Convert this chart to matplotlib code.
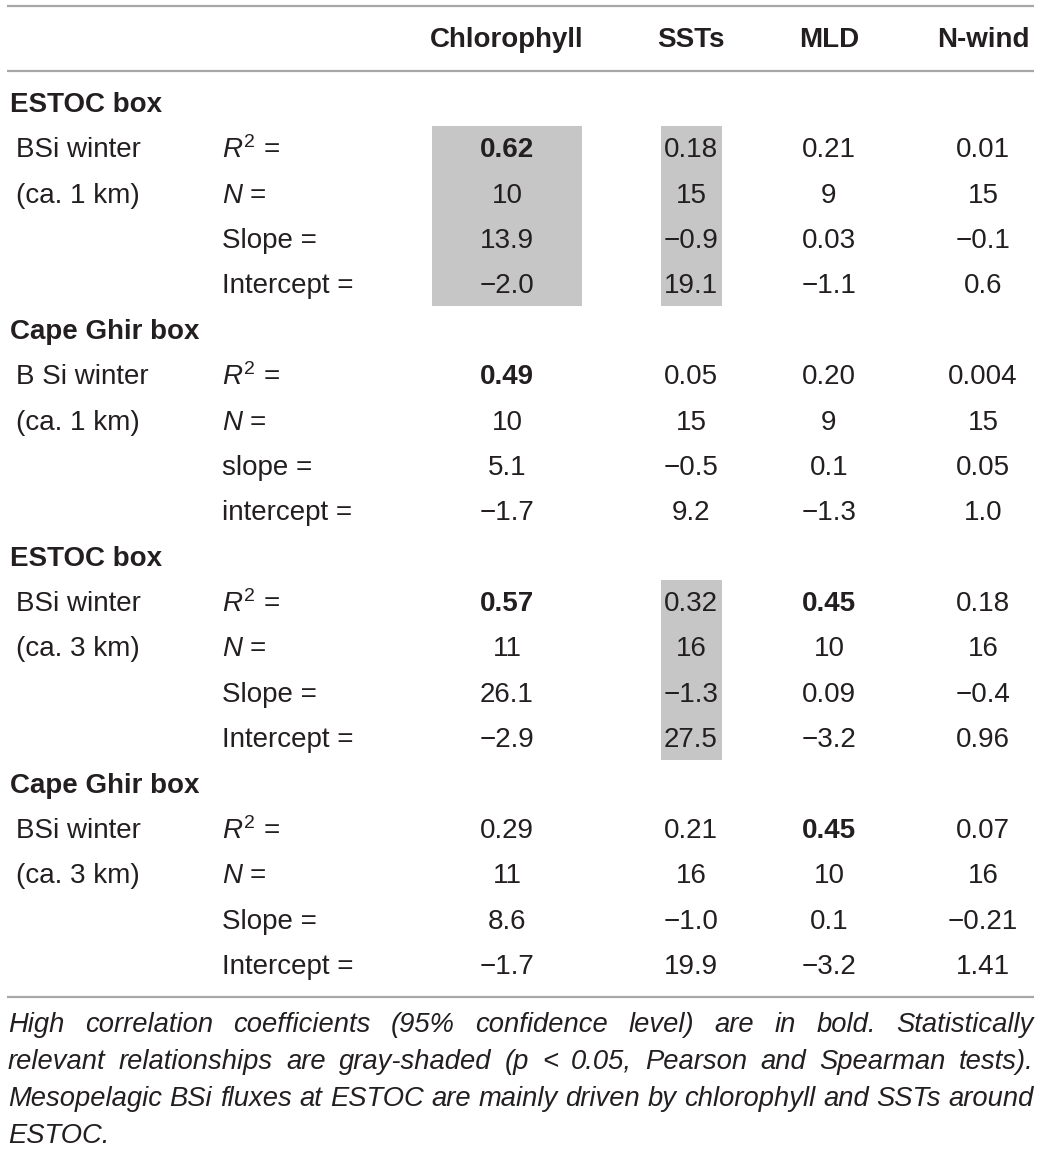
import matplotlib
matplotlib.use("Agg")
import matplotlib.pyplot as plt
from matplotlib.patches import Rectangle

plt.rcParams['font.family'] = ['Liberation Sans', 'DejaVu Sans']
plt.rcParams['mathtext.fontset'] = 'custom'
plt.rcParams['mathtext.rm'] = 'Liberation Sans'
plt.rcParams['mathtext.it'] = 'Liberation Sans:italic'

# table content
columns = ["Chlorophyll", "SSTs", "MLD", "N-wind"]
groups = ["ESTOC box", "Cape Ghir box", "ESTOC box", "Cape Ghir box"]
series = [("BSi winter", "(ca. 1 km)"), ("B Si winter", "(ca. 1 km)"),
          ("BSi winter", "(ca. 3 km)"), ("BSi winter", "(ca. 3 km)")]
stats_upper = [r"$\mathit{R}^{2}$ =", r"$\mathit{N}$ =", "Slope =", "Intercept ="]
stats_lower = [r"$\mathit{R}^{2}$ =", r"$\mathit{N}$ =", "slope =", "intercept ="]
stat_labels = [stats_upper, stats_lower, stats_upper, stats_upper]

values = [
    [["0.62", "0.18", "0.21", "0.01"],
     ["10", "15", "9", "15"],
     ["13.9", "\u22120.9", "0.03", "\u22120.1"],
     ["\u22122.0", "19.1", "\u22121.1", "0.6"]],
    [["0.49", "0.05", "0.20", "0.004"],
     ["10", "15", "9", "15"],
     ["5.1", "\u22120.5", "0.1", "0.05"],
     ["\u22121.7", "9.2", "\u22121.3", "1.0"]],
    [["0.57", "0.32", "0.45", "0.18"],
     ["11", "16", "10", "16"],
     ["26.1", "\u22121.3", "0.09", "\u22120.4"],
     ["\u22122.9", "27.5", "\u22123.2", "0.96"]],
    [["0.29", "0.21", "0.45", "0.07"],
     ["11", "16", "10", "16"],
     ["8.6", "\u22121.0", "0.1", "\u22120.21"],
     ["\u22121.7", "19.9", "\u22123.2", "1.41"]],
]
# bold R2 cells: (group, column)
bold_cells = [(0, 0), (1, 0), (2, 0), (2, 2), (3, 2)]
# gray-shaded blocks: (group, column)
shaded = [(0, 0), (0, 1), (2, 1)]

caption_lines = [
    "High correlation coefficients (95% confidence level) are in bold. Statistically",
    "relevant relationships are gray-shaded (p < 0.05, Pearson and Spearman tests).",
    "Mesopelagic BSi fluxes at ESTOC are mainly driven by chlorophyll and SSTs around",
    "ESTOC.",
]

W, H = 1041, 1151
fig = plt.figure(figsize=(W / 100, H / 100), dpi=100)
ax = fig.add_axes([0, 0, 1, 1])
ax.set_xlim(0, W)
ax.set_ylim(H, 0)
ax.axis('off')

txt = '#231f20'
line_col = '#a7a7a7'
fs = 20
shift = 2  # text sits a touch lower than the cell centre

col_x = [507, 691, 829, 983]
col_w = [150, 61, 0, 0]
x_group = 10
x_series = 16
x_stat = 222
y_head = 38
y0 = 103
dy = 45.37

# rules
for y in [6, 71, 997]:
    ax.plot([7, 1034], [y, y], color=line_col, lw=1.6, solid_capstyle='butt')

for c, name in enumerate(columns):
    ax.text(col_x[c], y_head + shift, name, ha='center', va='center', fontsize=fs,
            fontweight='bold', color=txt)

# shading
for g, c in shaded:
    top = y0 + (g * 5 + 1) * dy - 22.5
    ax.add_patch(Rectangle((col_x[c] - col_w[c] / 2, top), col_w[c], 4 * dy - 1,
                           facecolor='#c6c6c6', edgecolor='none', zorder=0))

for g in range(len(groups)):
    base = y0 + g * 5 * dy
    ax.text(x_group, base + shift, groups[g], ha='left', va='center', fontsize=fs,
            fontweight='bold', color=txt)
    for r in range(4):
        y = base + (r + 1) * dy + shift
        if r < 2:
            ax.text(x_series, y, series[g][r], ha='left', va='center',
                    fontsize=fs, color=txt)
        ax.text(x_stat, y, stat_labels[g][r], ha='left', va='center',
                fontsize=fs, color=txt)
        for c in range(4):
            bold = (r == 0 and (g, c) in bold_cells)
            ax.text(col_x[c], y, values[g][r][c], ha='center', va='center',
                    fontsize=fs, color=txt,
                    fontweight='bold' if bold else 'normal')

# justified italic caption, size chosen so the tightest line fits
fig.canvas.draw()
rend = fig.canvas.get_renderer()
left, right = 8, 1034
probe = ax.text(0, 0, caption_lines[2], fontsize=18, style='italic')
pw = probe.get_window_extent(rend).width
probe.remove()
cap_fs = 18 * (right - left - 4) / pw
cap_y = [1025, 1062, 1099, 1136]
for i, line in enumerate(caption_lines):
    words = line.split(' ')
    if i == len(caption_lines) - 1:
        ax.text(left, cap_y[i], line, ha='left', va='center', fontsize=cap_fs,
                style='italic', color=txt)
        continue
    arts = [ax.text(0, cap_y[i], w, ha='left', va='center', fontsize=cap_fs,
                    style='italic', color=txt) for w in words]
    widths = [a.get_window_extent(rend).width for a in arts]
    gap = (right - left - sum(widths)) / (len(words) - 1)
    x = left
    for a, w in zip(arts, widths):
        a.set_x(x)
        x += w + gap

fig.savefig('out.png', dpi=100)
